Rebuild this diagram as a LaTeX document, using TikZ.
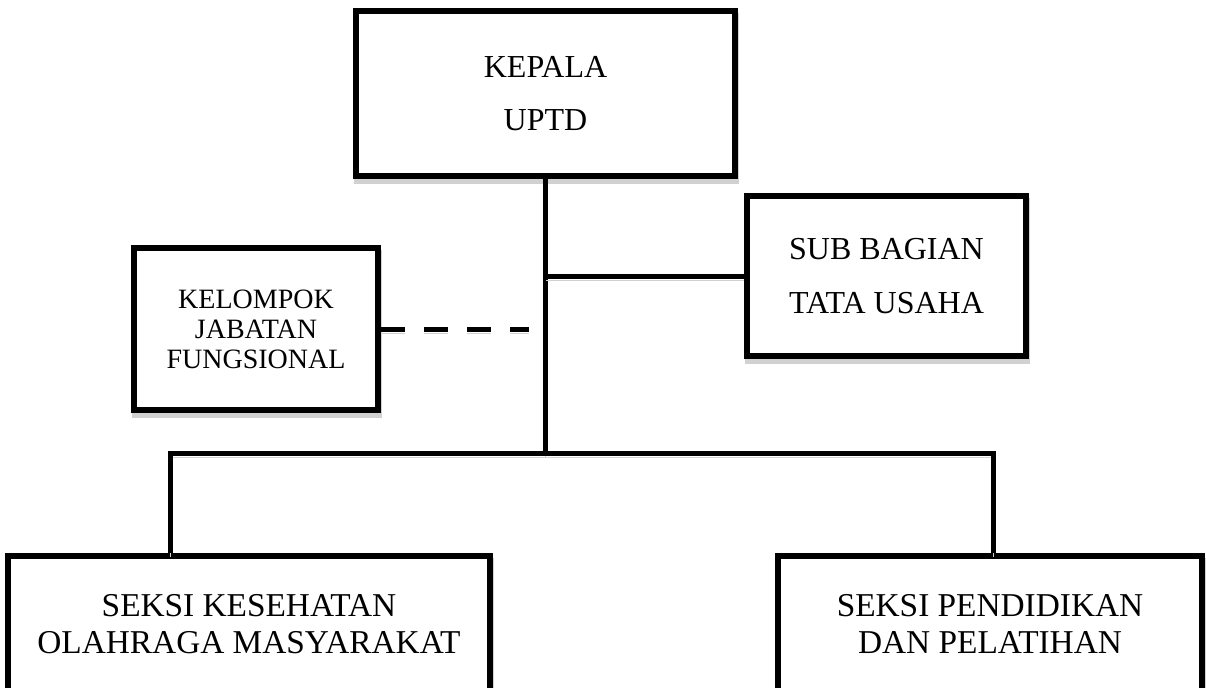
\documentclass[tikz,border=0pt]{standalone}
\usepackage{fontspec}
\setmainfont{Liberation Serif}
\usetikzlibrary{shadows}
\tikzstyle{Box}=[draw,fill=white,line width=4.5pt,inner sep=0pt,align=center,
  drop shadow={shadow xshift=.75pt,shadow yshift=-3.75pt,fill=black!18,
  draw=black!18,opacity=1}]
\tikzstyle{Edge}=[draw,line width=3.75pt,line join=miter,
  preaction={draw=black!18,transform canvas={yshift=-3pt}}]
\tikzstyle{Dash}=[draw,line width=3.75pt,dash pattern=on 18pt off 14.25pt,
  preaction={draw=black!18,dash pattern=on 18pt off 14.25pt,
  transform canvas={yshift=-3pt}}]
\tikzstyle{BigText}=[font=\fontsize{24}{40}\selectfont]
\tikzstyle{MidText}=[font=\fontsize{25}{28}\selectfont]
\tikzstyle{SmallText}=[font=\fontsize{21}{22.5}\selectfont]
\begin{document}
\begin{tikzpicture}[x=.75pt,y=-.75pt]
    \useasboundingbox (0,0) rectangle (1206,688);
    \node[Box,BigText,minimum width=284.25pt,minimum height=123.75pt]
        (kepala)at(545.5,93.5){KEPALA\\UPTD};
    \node[Box,BigText,minimum width=209.25pt,minimum height=120pt,
        font=\fontsize{24}{41}\selectfont]
        (subbag)at(886.5,276){SUB BAGIAN\\TATA USAHA};
    \node[Box,SmallText,minimum width=183pt,minimum height=121.5pt]
        (kelompok)at(256,329){KELOMPOK\\JABATAN\\FUNGSIONAL};
    \node[Box,MidText,minimum width=361.5pt,minimum height=102pt]
        (seksikes)at(249,624){SEKSI KESEHATAN\\OLAHRAGA MASYARAKAT};
    \node[Box,MidText,minimum width=318pt,minimum height=102pt]
        (seksidik)at(990,624){SEKSI PENDIDIKAN\\DAN PELATIHAN};
    \coordinate(bus)at(545.5,453);
    \coordinate(busL)at(170,453);
    \coordinate(busR)at(993,453);
    \coordinate(dashend)at(529,329);
    \draw[Edge](kepala.south)--(bus);
    \draw[Edge](subbag.west)--(subbag.west-|bus);
    \draw[Dash](kelompok.east)--(dashend);
    \draw[Edge](seksikes.north-|busL)--(busL)--(busR)--(seksidik.north-|busR);
\end{tikzpicture}
\end{document}
